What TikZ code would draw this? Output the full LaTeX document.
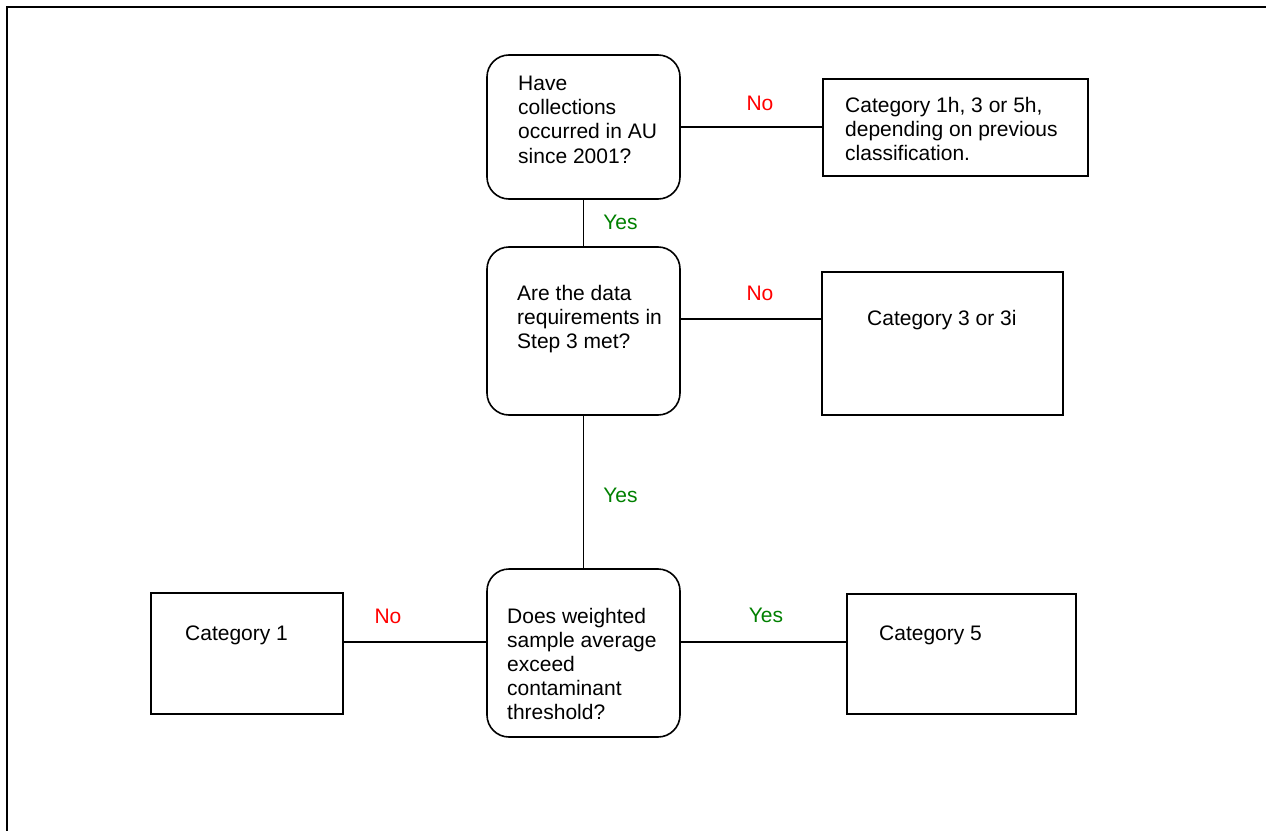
\documentclass[tikz,border=0pt]{standalone}
\usepackage{fontspec}
\setmainfont{Liberation Sans}
\definecolor{nored}{RGB}{255,0,0}
\definecolor{yesgreen}{RGB}{0,128,0}
\begin{document}
\begin{tikzpicture}[x=1bp,y=-1bp,
  txt/.style={inner sep=0pt,anchor=base west,align=left,font=\fontsize{21bp}{24.15bp}\selectfont},
  lbl/.style={inner sep=0pt,anchor=base,font=\fontsize{21bp}{24.15bp}\selectfont},
  qbox/.style={draw,line width=1.6bp,rounded corners=22bp,inner sep=0pt},
  cbox/.style={draw,line width=1.6bp,inner sep=0pt},
  conn/.style={line width=1.5bp}]
\useasboundingbox (0,0) rectangle (1266,831);
% frame (top and left edges only)
\coordinate (ftl) at (7,7);
\coordinate (ftr) at (1266,7);
\coordinate (fbl) at (7,831);
\draw[line width=2bp] (fbl) -- (ftl) -- (ftr);
% boxes
\node[qbox,minimum width=193bp,minimum height=144bp] (A) at (583.5,127) {};
\node[cbox,minimum width=265bp,minimum height=97bp] (B) at (955.5,127.5) {};
\node[qbox,minimum width=193bp,minimum height=168bp] (C) at (583.5,331) {};
\node[cbox,minimum width=241bp,minimum height=143bp] (D) at (942.5,343.5) {};
\node[qbox,minimum width=193bp,minimum height=168bp] (E) at (583.5,653) {};
\node[cbox,minimum width=192bp,minimum height=121bp] (F) at (247,653.5) {};
\node[cbox,minimum width=229bp,minimum height=120bp] (G) at (961.5,654) {};
% texts (anchor = baseline of last line)
\node[txt] (tA) at (518,163) {Have\\collections\\occurred in AU\\since 2001?};
\node[txt] (tB) at (845,160.3) {Category 1h, 3 or 5h,\\depending on previous\\classification.};
\node[txt] (tC) at (517,348.3) {Are the data\\requirements in\\Step 3 met?};
\node[txt] (tD) at (867,325) {Category 3 or 3i};
\node[txt] (tE) at (507,719.6) {Does weighted\\sample average\\exceed\\contaminant\\threshold?};
\node[txt] (tF) at (185,640) {Category 1};
\node[txt] (tG) at (879,640) {Category 5};
% connectors
\coordinate (cdy) at (0,319);
\coordinate (ely) at (0,642);
\draw[conn] (A.east) -- (B.west |- A.east);
\draw[conn] (A.south) -- (C.north);
\draw[conn] (C.east |- cdy) -- (D.west |- cdy);
\draw[conn] (C.south) -- (E.north);
\draw[conn] (F.east |- ely) -- (E.west |- ely);
\draw[conn] (E.east |- ely) -- (G.west |- ely);
% labels
\node[lbl,text=nored] (l1) at (760,110) {No};
\node[lbl,text=yesgreen] (l2) at (620.5,229) {Yes};
\node[lbl,text=nored] (l3) at (760,300) {No};
\node[lbl,text=yesgreen] (l4) at (620.5,502) {Yes};
\node[lbl,text=nored] (l5) at (388,623) {No};
\node[lbl,text=yesgreen] (l6) at (766,622) {Yes};
\end{tikzpicture}
\end{document}
